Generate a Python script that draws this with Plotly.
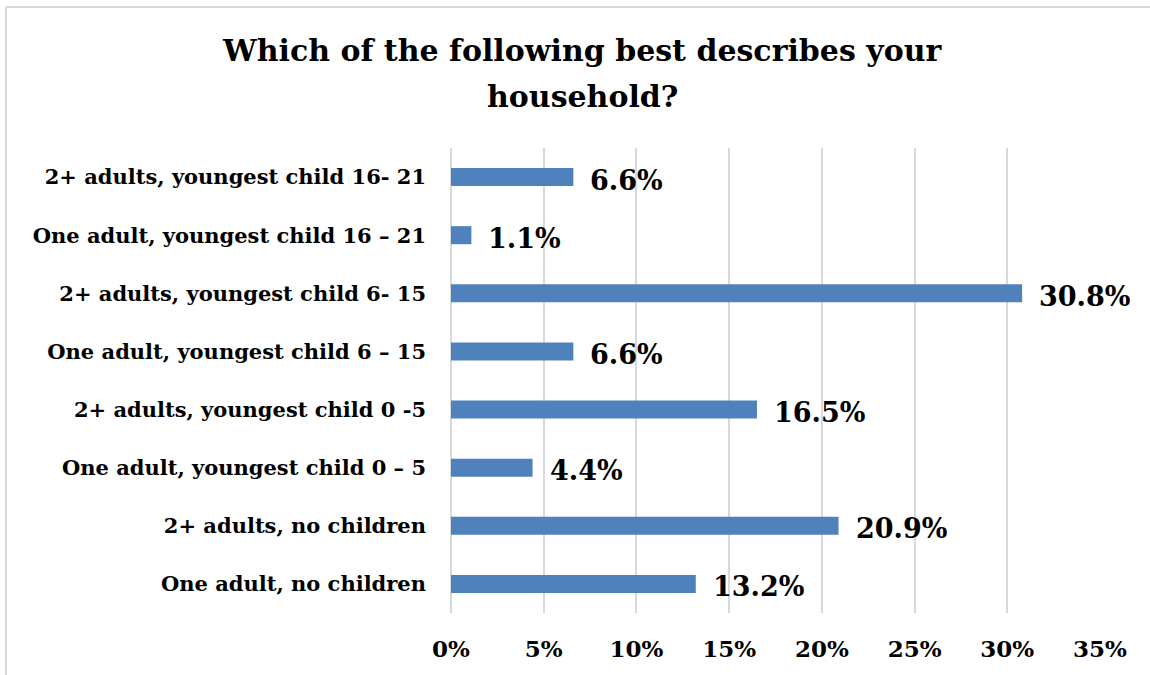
import plotly.graph_objects as go

categories = [
    "One adult, no children",
    "2+ adults, no children",
    "One adult, youngest child 0 – 5",
    "2+ adults, youngest child 0 -5",
    "One adult, youngest child 6 – 15",
    "2+ adults, youngest child 6- 15",
    "One adult, youngest child 16 – 21",
    "2+ adults, youngest child 16- 21",
]
shares = [13.2, 20.9, 4.4, 16.5, 6.6, 30.8, 1.1, 6.6]
tick_vals = [0, 5, 10, 15, 20, 25, 30, 35]
tick_text = ["0%", "5%", "10%", "15%", "20%", "25%", "30%", "35%"]
title_lines = ["Which of the following best describes your", "household?"]

FONT = "DejaVu Serif"
BAR = "#4F81BD"
GRID = "#d9d9d9"

# plot-area geometry in pixels
W, H = 1150, 675
L, R, T, B = 451, 50, 148, 62
PW, PH = W - L - R, H - T - B


def px_to_paper(xpx, ypx):
    return (xpx - L) / PW, (H - B - ypx) / PH


fig = go.Figure(
    go.Bar(
        x=shares,
        y=categories,
        orientation="h",
        marker=dict(color=BAR, line=dict(width=0)),
        width=0.31,
        hoverinfo="skip",
    )
)

# value labels to the right of each bar
for cat, v in zip(categories, shares):
    fig.add_annotation(
        x=v, y=cat, xref="x", yref="y",
        text=f"<b>{v:.1f}%</b>",
        showarrow=False, xanchor="left", yanchor="middle",
        xshift=15, yshift=-3,
        font=dict(family=FONT, size=27, color="#000000"),
    )

# two-line chart title
for line, ypx in zip(title_lines, [50, 96]):
    tx, ty = px_to_paper(582, ypx)
    fig.add_annotation(
        x=tx, y=ty, xref="paper", yref="paper",
        text=f"<b>{line}</b>", showarrow=False,
        xanchor="center", yanchor="middle",
        font=dict(family=FONT, size=30, color="#000000"),
    )

# chart frame: top and left edges
fx0, fy1 = px_to_paper(6, 7)
fx1, fy0 = px_to_paper(W + 10, H + 10)
for x0, y0, x1, y1 in [(fx0, fy1, fx1, fy1), (fx0, fy1, fx0, fy0)]:
    fig.add_shape(
        type="line", xref="paper", yref="paper",
        x0=x0, y0=y0, x1=x1, y1=y1,
        line=dict(color=GRID, width=2), layer="below",
    )

fig.update_layout(
    width=W, height=H,
    margin=dict(l=L, r=R, t=T, b=B),
    paper_bgcolor="white", plot_bgcolor="white",
    showlegend=False,
    xaxis=dict(
        range=[0, 35], tickvals=tick_vals, ticktext=[f"<b>{t}</b>" for t in tick_text],
        showgrid=True, gridcolor=GRID, gridwidth=1.5,
        zeroline=True, zerolinecolor=GRID, zerolinewidth=1.5,
        showline=False, ticks="", ticklen=0,
        ticklabelstandoff=20,
        tickfont=dict(family=FONT, size=23, color="#000000"),
        fixedrange=True,
    ),
    yaxis=dict(
        categoryorder="array", categoryarray=categories,
        range=[-0.5, 7.5],
        tickvals=categories, ticktext=[f"<b>{c}</b>" for c in categories],
        showgrid=False, zeroline=False, showline=False, ticks="",
        ticklabelstandoff=24,
        tickfont=dict(family=FONT, size=21, color="#000000"),
        fixedrange=True,
    ),
)

fig.write_html("out.html")
